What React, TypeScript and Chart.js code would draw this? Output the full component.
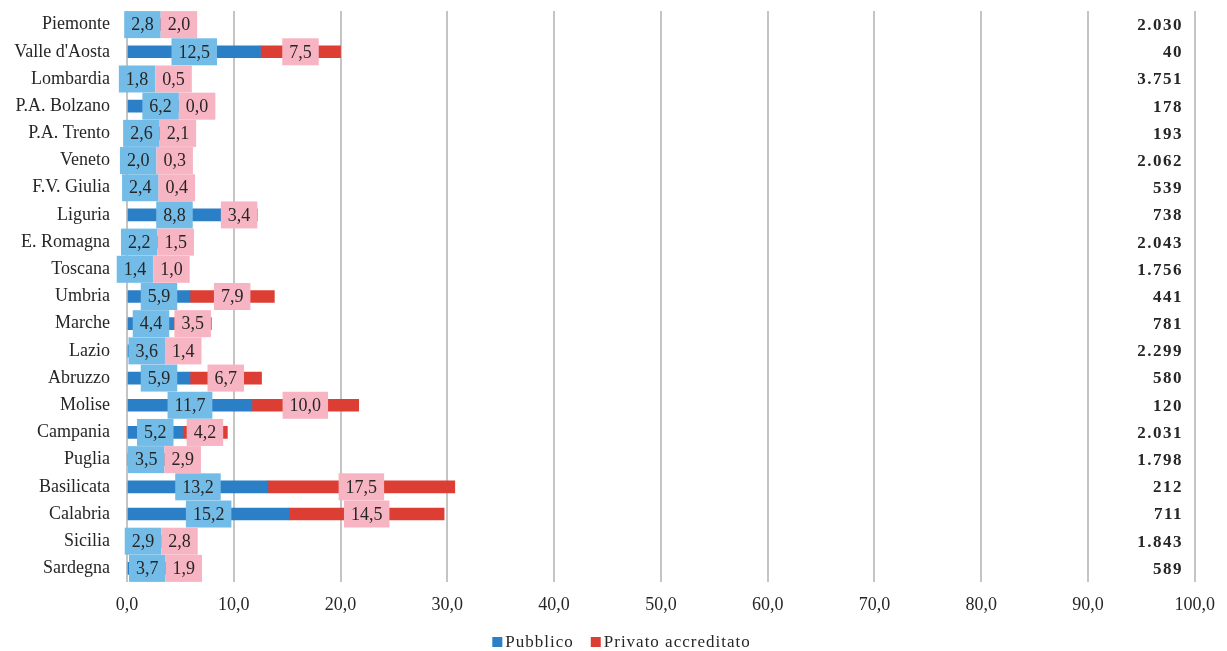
import React, { useEffect, useRef } from "react";
import { Chart, registerables } from "chart.js";

Chart.register(...registerables);

const regions = [
  "Piemonte", "Valle d'Aosta", "Lombardia", "P.A. Bolzano", "P.A. Trento", "Veneto",
  "F.V. Giulia", "Liguria", "E. Romagna", "Toscana", "Umbria", "Marche", "Lazio",
  "Abruzzo", "Molise", "Campania", "Puglia", "Basilicata", "Calabria", "Sicilia", "Sardegna",
];
const pubblico = [2.8, 12.5, 1.8, 6.2, 2.6, 2.0, 2.4, 8.8, 2.2, 1.4, 5.9, 4.4, 3.6, 5.9, 11.7, 5.2, 3.5, 13.2, 15.2, 2.9, 3.7];
const privato = [2.0, 7.5, 0.5, 0.0, 2.1, 0.3, 0.4, 3.4, 1.5, 1.0, 7.9, 3.5, 1.4, 6.7, 10.0, 4.2, 2.9, 17.5, 14.5, 2.8, 1.9];
const totals = ["2.030", "40", "3.751", "178", "193", "2.062", "539", "738", "2.043", "1.756", "441", "781", "2.299", "580", "120", "2.031", "1.798", "212", "711", "1.843", "589"];
const seriesNames = ["Pubblico", "Privato accreditato"];

const BLUE = "#2A7FC6";
const RED = "#DC3E33";
const LBLUE = "#74BCE8";
const PINK = "#F7B5C4";
const SERIF = "'Liberation Serif', 'Times New Roman', serif";
const fmt = (v: number) => v.toFixed(1).replace(".", ",");

const labelPlugin = {
  id: "labelsAndExtras",
  afterDatasetsDraw(chart: any) {
    const ctx = chart.ctx;
    const m0 = chart.getDatasetMeta(0);
    const m1 = chart.getDatasetMeta(1);
    const boxH = 27;
    const pad = 7;
    ctx.save();
    ctx.font = `18px ${SERIF}`;
    ctx.textBaseline = "middle";
    ctx.textAlign = "center";
    for (let i = 0; i < regions.length; i++) {
      const e0 = m0.data[i];
      const e1 = m1.data[i];
      const t0 = fmt(pubblico[i]);
      const t1 = fmt(privato[i]);
      const w0 = ctx.measureText(t0).width + pad * 2;
      const w1 = ctx.measureText(t1).width + pad * 2;
      const c0 = (e0.x + e0.base) / 2;
      const l0 = c0 - w0 / 2;
      const c1 = (e1.x + e1.base) / 2;
      let l1 = c1 - w1 / 2;
      if (l1 < l0 + w0) l1 = l0 + w0;
      const y = e0.y;
      ctx.fillStyle = LBLUE;
      ctx.fillRect(l0, y - boxH / 2, w0, boxH);
      ctx.fillStyle = PINK;
      ctx.fillRect(l1, y - boxH / 2, w1, boxH);
      ctx.fillStyle = "#262626";
      ctx.fillText(t0, l0 + w0 / 2, y + 1);
      ctx.fillText(t1, l1 + w1 / 2, y + 1);
    }
    // totals column
    const xs = chart.scales.x;
    ctx.font = `bold 17px ${SERIF}`;
    (ctx as any).letterSpacing = "1.5px";
    ctx.textAlign = "right";
    ctx.fillStyle = "#262626";
    const rx = xs.getPixelForValue(98.9);
    for (let i = 0; i < totals.length; i++) {
      const y = chart.scales.y.getPixelForValue(i);
      ctx.fillText(totals[i], rx, y + 1);
    }
    // legend
    ctx.font = `17px ${SERIF}`;
    (ctx as any).letterSpacing = "1px";
    ctx.textAlign = "left";
    const box = 10;
    const gapBox = 3;
    const gapItem = 17;
    const widths = seriesNames.map((n) => box + gapBox + ctx.measureText(n).width);
    const total = widths.reduce((a, b) => a + b, 0) + gapItem;
    let x = chart.width / 2 - total / 2 + 8;
    const ly = chart.height - 8;
    const cols = [BLUE, RED];
    seriesNames.forEach((n, k) => {
      ctx.fillStyle = cols[k];
      ctx.fillRect(x, ly - box / 2 - 1, box, box);
      ctx.fillStyle = "#262626";
      ctx.fillText(n, x + box + gapBox, ly);
      x += widths[k] + gapItem;
    });
    (ctx as any).letterSpacing = "0px";
    ctx.restore();
  },
};

export default function App() {
  const ref = useRef<HTMLCanvasElement>(null);
  useEffect(() => {
    if (!ref.current) return;
    const chart = new Chart(ref.current, {
      type: "bar",
      data: {
        labels: regions,
        datasets: [
          { label: seriesNames[0], data: pubblico, backgroundColor: BLUE, barThickness: 12 },
          { label: seriesNames[1], data: privato, backgroundColor: RED, barThickness: 12 },
        ],
      },
      options: {
        indexAxis: "y",
        responsive: false,
        animation: false,
        devicePixelRatio: 1,
        layout: { padding: { top: 11, right: 29, bottom: 30, left: 0 } },
        plugins: { legend: { display: false }, tooltip: { enabled: false } },
        scales: {
          x: {
            stacked: true,
            min: 0,
            max: 100,
            ticks: {
              stepSize: 10,
              padding: 12,
              color: "#262626",
              font: { family: SERIF, size: 18 },
              callback: (v: any) => fmt(Number(v)),
            },
            grid: { color: "#C4C4C4", lineWidth: 2, drawTicks: false },
            border: { display: false },
            afterFit: (s: any) => { s.height = 39; },
          },
          y: {
            stacked: true,
            ticks: {
              padding: 17,
              color: "#262626",
              font: { family: SERIF, size: 18 },
              autoSkip: false,
            },
            grid: { display: false, drawTicks: false },
            border: { display: false },
            afterFit: (s: any) => { s.width = 127; s.paddingTop = 0; s.paddingBottom = 0; },
          },
        },
      },
      plugins: [labelPlugin],
    });
    return () => chart.destroy();
  }, []);
  return (
    <div style={{ position: "absolute", left: 0, top: 0, width: 1227, height: 651 }}>
      <canvas ref={ref} width={1227} height={651} />
    </div>
  );
}
